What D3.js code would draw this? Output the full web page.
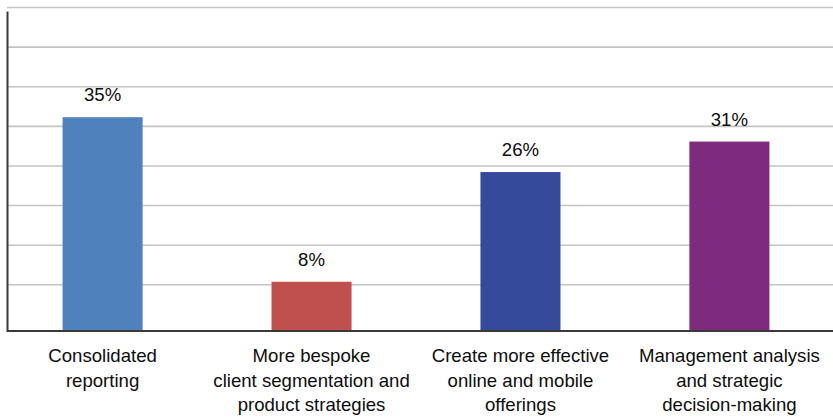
<!DOCTYPE html>
<html>
<head>
<meta charset="utf-8">
<script src="https://cdn.jsdelivr.net/npm/d3@7"></script>
<style>
  html, body { margin: 0; padding: 0; background: #ffffff; }
  svg { display: block; font-family: "Liberation Sans", Arial, sans-serif; }
</style>
</head>
<body>
<svg id="chart" width="833" height="417"></svg>
<script>
// ---- data ----
const categories = [
  ["Consolidated", "reporting"],
  ["More bespoke", "client segmentation and", "product strategies"],
  ["Create more effective", "online and mobile", "offerings"],
  ["Management analysis", "and strategic", "decision-making"]
];
const values = [35, 8, 26, 31];
const valueLabels = ["35%", "8%", "26%", "31%"];
const gridValues = [7.5, 14, 20.5, 27, 33.5, 40, 46.5, 53];
const barColors = ["#4f81bd", "#c0504d", "#354a9a", "#7e2a7d"];

// ---- layout ----
const plotLeft = 7, plotRight = 833, plotTop = 7.5, baseY = 330.5;

const svg = d3.select("#chart");
const keys = categories.map((c, i) => i);

const x = d3.scaleBand()
  .domain(keys)
  .range([2, 830])
  .paddingInner(0.617)
  .paddingOuter(0.29);

const y = d3.scaleLinear()
  .domain([0, 53])
  .range([baseY, plotTop]);

// gridlines
svg.append("g")
  .selectAll("line")
  .data(gridValues)
  .join("line")
  .attr("x1", plotLeft)
  .attr("x2", plotRight)
  .attr("y1", d => y(d))
  .attr("y2", d => y(d))
  .attr("stroke", "#c3c3c3")
  .attr("stroke-width", 1.6);

// bars
svg.append("g")
  .selectAll("rect")
  .data(values)
  .join("rect")
  .attr("x", (d, i) => x(i))
  .attr("width", x.bandwidth())
  .attr("y", d => y(d))
  .attr("height", d => y(0) - y(d))
  .attr("fill", (d, i) => barColors[i]);

// value labels
svg.append("g")
  .selectAll("text")
  .data(values)
  .join("text")
  .attr("x", (d, i) => x(i) + x.bandwidth() / 2)
  .attr("y", d => y(d) - 16)
  .attr("text-anchor", "middle")
  .attr("font-size", "18.6px")
  .attr("fill", "#0d0d0d")
  .text((d, i) => valueLabels[i]);

// axes lines
const xAxis = d3.axisBottom(d3.scaleLinear().domain([0, 1]).range([plotLeft, plotRight]))
  .ticks(0).tickSize(0).tickSizeOuter(0);
svg.append("g")
  .attr("transform", `translate(0,${baseY})`)
  .call(xAxis)
  .call(g => g.select(".domain").attr("stroke", "#3a3a3a").attr("stroke-width", 2));

const yAxis = d3.axisLeft(d3.scaleLinear().domain([0, 1]).range([baseY + 1, 11]))
  .ticks(0).tickSize(0).tickSizeOuter(0);
svg.append("g")
  .attr("transform", `translate(${plotLeft},0)`)
  .call(yAxis)
  .call(g => g.select(".domain").attr("stroke", "#3a3a3a").attr("stroke-width", 2));

// category labels
const catG = svg.append("g")
  .selectAll("text")
  .data(categories)
  .join("text")
  .attr("text-anchor", "middle")
  .attr("font-size", "18.6px")
  .attr("fill", "#0d0d0d")
  .attr("x", (d, i) => x(i) + x.bandwidth() / 2)
  .attr("y", 362);

catG.selectAll("tspan")
  .data(d => d)
  .join("tspan")
  .attr("x", function () { return d3.select(this.parentNode).attr("x"); })
  .attr("dy", (d, j) => j === 0 ? 0 : 24.5)
  .text(d => d);
</script>
</body>
</html>
